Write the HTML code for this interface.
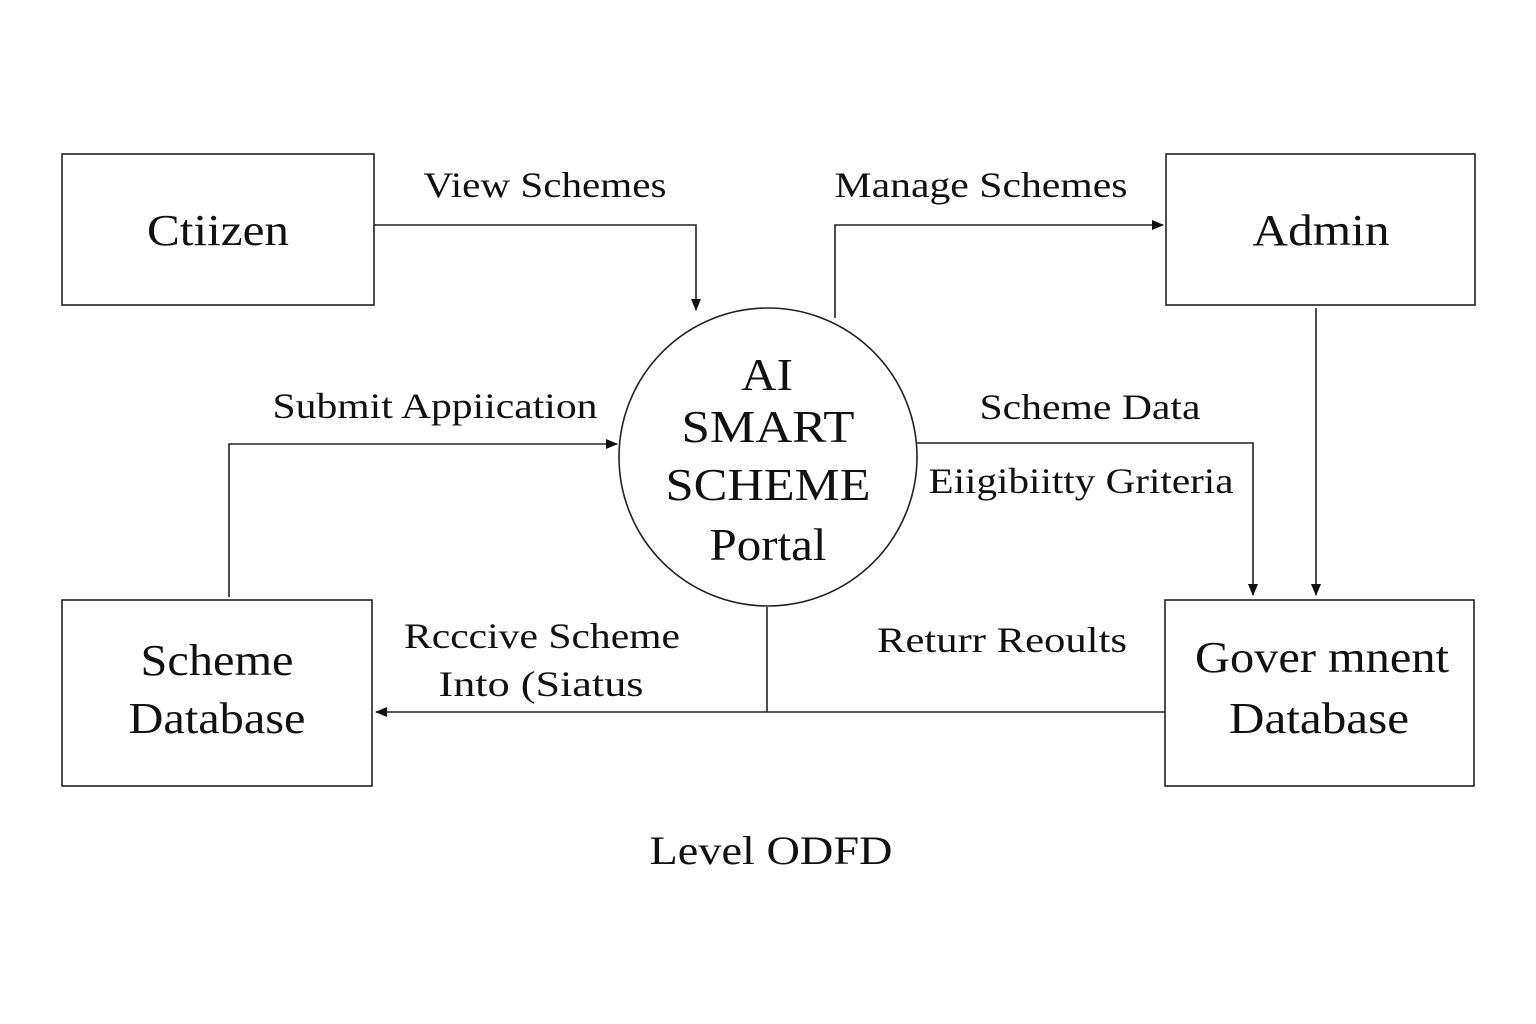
<!DOCTYPE html>
<html><head><meta charset="utf-8"><style>html,body{margin:0;padding:0;background:#fff}svg{display:block}</style></head>
<body>
<svg width="1536" height="1024" viewBox="0 0 1536 1024" xmlns="http://www.w3.org/2000/svg" font-family="Liberation Serif, serif" fill="#111">
<defs><marker id="a" markerWidth="12" markerHeight="10" refX="11" refY="5" orient="auto" markerUnits="userSpaceOnUse"><path d="M0,0 L12,5 L0,10 Z" fill="#111"/></marker></defs>
<g fill="none" stroke="#222" stroke-width="1.6">
<rect x="62" y="154" width="312" height="151"/>
<rect x="1166" y="154" width="309" height="151"/>
<rect x="62" y="600" width="310" height="186"/>
<rect x="1165" y="600" width="309" height="186"/>
<circle cx="768" cy="457" r="149"/>
<polyline points="374,225 696,225 696,310" marker-end="url(#a)"/>
<polyline points="835,318 835,225 1163,225" marker-end="url(#a)"/>
<polyline points="1316,308 1316,595" marker-end="url(#a)"/>
<polyline points="229,597 229,444 617,444" marker-end="url(#a)"/>
<polyline points="917,443 1253,443 1253,595" marker-end="url(#a)"/>
<polyline points="767,607 767,712"/>
<polyline points="1165,712 376,712" marker-end="url(#a)"/>
</g>
<g text-anchor="middle" lengthAdjust="spacingAndGlyphs">
<text x="218" y="245" font-size="44" textLength="142" lengthAdjust="spacingAndGlyphs">Ctiizen</text>
<text x="1321" y="245" font-size="44" textLength="137" lengthAdjust="spacingAndGlyphs">Admin</text>
<text x="217" y="675" font-size="44" textLength="153" lengthAdjust="spacingAndGlyphs">Scheme</text>
<text x="217" y="733" font-size="44" textLength="177" lengthAdjust="spacingAndGlyphs">Database</text>
<text x="1322" y="672" font-size="44" textLength="254" lengthAdjust="spacingAndGlyphs">Gover mnent</text>
<text x="1319" y="733" font-size="44" textLength="180" lengthAdjust="spacingAndGlyphs">Database</text>
<text x="767" y="390" font-size="46" textLength="52" lengthAdjust="spacingAndGlyphs">AI</text>
<text x="768" y="442" font-size="46" textLength="173" lengthAdjust="spacingAndGlyphs">SMART</text>
<text x="768" y="500" font-size="46" textLength="205" lengthAdjust="spacingAndGlyphs">SCHEME</text>
<text x="768" y="560" font-size="46" textLength="117" lengthAdjust="spacingAndGlyphs">Portal</text>
<text x="545" y="197" font-size="36" textLength="243" lengthAdjust="spacingAndGlyphs">View Schemes</text>
<text x="981" y="197" font-size="36" textLength="293" lengthAdjust="spacingAndGlyphs">Manage Schemes</text>
<text x="435" y="418" font-size="36" textLength="325" lengthAdjust="spacingAndGlyphs">Submit Appiication</text>
<text x="1090" y="419" font-size="36" textLength="221" lengthAdjust="spacingAndGlyphs">Scheme Data</text>
<text x="1081" y="493" font-size="36" textLength="305" lengthAdjust="spacingAndGlyphs">Eiigibiitty Griteria</text>
<text x="542" y="648" font-size="36" textLength="276" lengthAdjust="spacingAndGlyphs">Rcccive Scheme</text>
<text x="541" y="696" font-size="36" textLength="205" lengthAdjust="spacingAndGlyphs">Into (Siatus</text>
<text x="1002" y="652" font-size="36" textLength="250" lengthAdjust="spacingAndGlyphs">Returr Reoults</text>
<text x="771" y="864" font-size="40" textLength="243" lengthAdjust="spacingAndGlyphs">Level ODFD</text>
</g>
</svg>
</body></html>
